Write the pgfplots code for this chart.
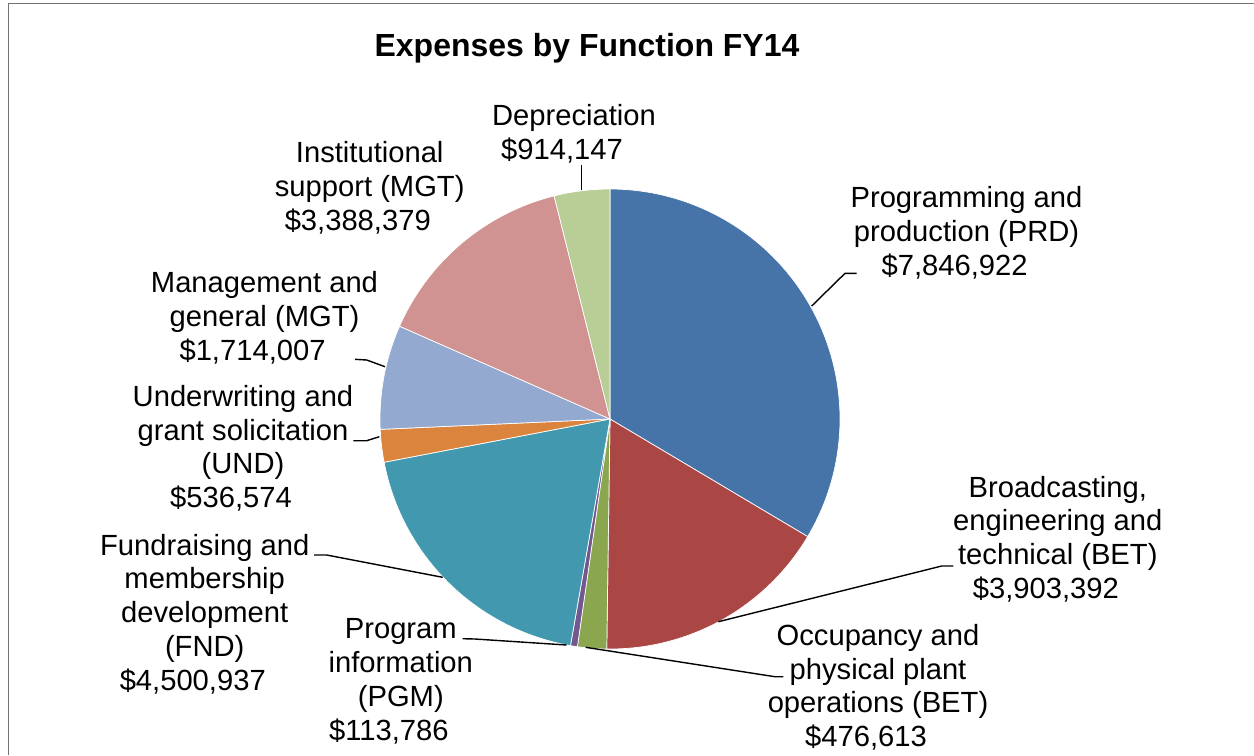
\documentclass[border=0pt]{standalone}
\usepackage{fontspec}
\setmainfont{Liberation Sans}
\usepackage{pgfplots}
\usepackage{pgfplotstable}
\pgfplotsset{compat=1.18}

\definecolor{slice0}{HTML}{4674A9}
\definecolor{slice1}{HTML}{AA4644}
\definecolor{slice2}{HTML}{8AA64F}
\definecolor{slice3}{HTML}{71588F}
\definecolor{slice4}{HTML}{4299AF}
\definecolor{slice5}{HTML}{DB843D}
\definecolor{slice6}{HTML}{93A9CF}
\definecolor{slice7}{HTML}{D19392}
\definecolor{slice8}{HTML}{B9CD96}

% expenses in dollars, clockwise from 12 o'clock
\pgfplotstableread{
name value
PRD 7846922
BET 3903392
OCC 476613
PGM 113786
FND 4500937
UND 536574
MGA 1714007
INS 3388379
DEP 914147
}\expenses

% cumulative start/end angles of each wedge
\gdef\sumval{0}
\pgfplotsinvokeforeach{0,...,8}{%
  \pgfplotstablegetelem{#1}{value}\of\expenses
  \xdef\sumval{\fpeval{\sumval+\pgfplotsretval}}%
}
\gdef\runval{0}
\pgfplotsinvokeforeach{0,...,8}{%
  \pgfplotstablegetelem{#1}{value}\of\expenses
  \expandafter\xdef\csname a#1\endcsname{\fpeval{90-360*\runval/\sumval}}%
  \xdef\runval{\fpeval{\runval+\pgfplotsretval}}%
  \expandafter\xdef\csname b#1\endcsname{\fpeval{90-360*\runval/\sumval}}%
}

\newcommand\lab{\fontsize{8.3}{9.6}\selectfont}
\newcommand\ttl{\fontsize{9.1}{11}\selectfont\bfseries}
\newcommand\pad{\hspace*{6.8pt}}

\begin{document}
\begin{tikzpicture}
\begin{axis}[scale only axis, width=12.54cm, height=7.55cm,
  xmin=0, xmax=1254, ymin=0, ymax=755, hide axis, clip=false]

% chart frame
\addplot[black!55, line width=0.35pt] coordinates {(8.5,0) (8.5,751.5) (1254,751.5)};

% wedges
\pgfplotsinvokeforeach{0,...,8}{
  \edef\doplot{\noexpand\addplot[fill=slice#1, draw=white, line width=0.2pt,
    domain=\csname b#1\endcsname:\csname a#1\endcsname, samples=90, variable=\noexpand\t]}
  \doplot ({610+230*cos(\t)},{336+230*sin(\t)}) -- (axis cs:610,336) -- cycle;
}

% leader lines
\addplot[black, line width=0.4pt] coordinates {(581.7,590) (581.7,565)};
\addplot[black, line width=0.4pt] coordinates {(856.7,481.7) (845,481.7) (811.7,449)};
\addplot[black, line width=0.4pt] coordinates {(355,395.7) (366.7,395) (385,388.3)};
\addplot[black, line width=0.4pt] coordinates {(353.3,314.3) (366.7,314.3) (379.3,318.3)};
\addplot[black, line width=0.4pt] coordinates {(314,200) (326.7,200) (442.7,177.7)};
\addplot[black, line width=0.4pt] coordinates {(462.7,116.3) (475,116) (566.7,110)};
\addplot[black, line width=0.4pt] coordinates {(585.7,107.7) (775,78.3) (783.3,78.3)};
\addplot[black, line width=0.4pt] coordinates {(953.3,189) (941.7,189) (718.3,133.3)};

% title and labels (anchored at the baseline of the last line)
\node[anchor=base, font=\ttl] at (axis cs:587,699) {Expenses by Function FY14};
\node[anchor=base, align=center, font=\lab] at (axis cs:574,596)
  {Depreciation\\\$914,147\pad};
\node[anchor=base, align=center, font=\lab] at (axis cs:966.5,480)
  {Programming and\\production (PRD)\\\$7,846,922\pad};
\node[anchor=base, align=center, font=\lab] at (axis cs:369.7,525)
  {Institutional\\support (MGT)\\\$3,388,379\pad};
\node[anchor=base, align=center, font=\lab] at (axis cs:264.5,395)
  {Management and\\general (MGT)\\\$1,714,007\pad};
\node[anchor=base, align=center, font=\lab] at (axis cs:243,247.5)
  {Underwriting and\\grant solicitation\\(UND)\\\$536,574\pad};
\node[anchor=base, align=center, font=\lab] at (axis cs:204.7,65)
  {Fundraising and\\membership\\development\\(FND)\\\$4,500,937\pad};
\node[anchor=base, align=center, font=\lab] at (axis cs:400.8,15)
  {Program\\information\\(PGM)\\\$113,786\pad};
\node[anchor=base, align=center, font=\lab] at (axis cs:878,8.3)
  {Occupancy and\\physical plant\\operations (BET)\\\$476,613\pad};
\node[anchor=base, align=center, font=\lab] at (axis cs:1057.8,156.7)
  {Broadcasting,\\engineering and\\technical (BET)\\\$3,903,392\pad};
\end{axis}
\pgfresetboundingbox
\path (0,0) rectangle (12.54cm,7.55cm);
\end{tikzpicture}
\end{document}
